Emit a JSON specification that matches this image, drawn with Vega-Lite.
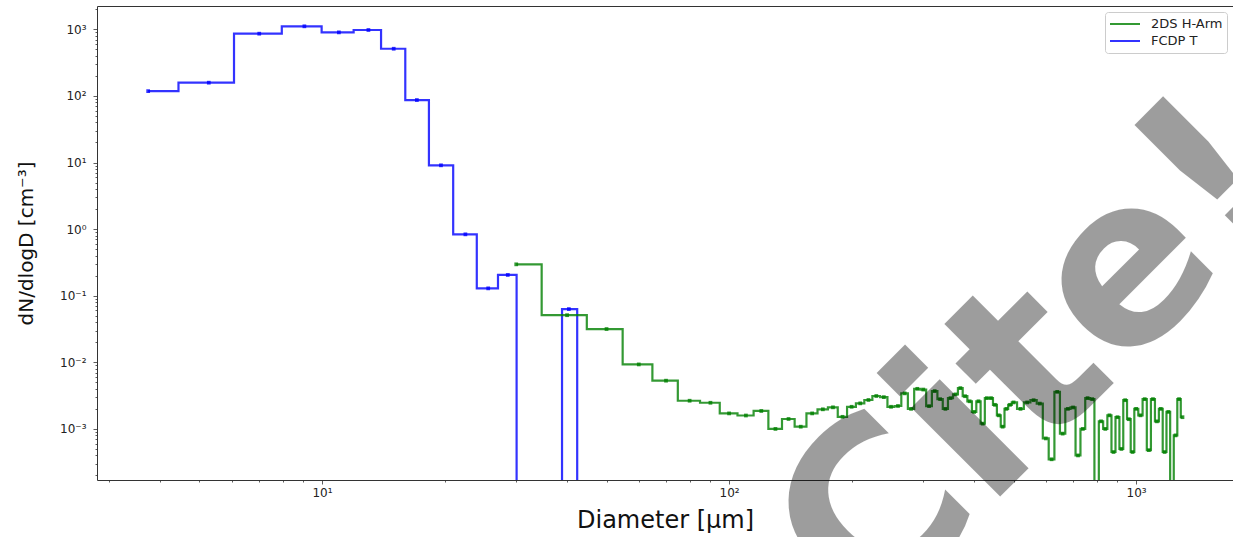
{
  "$schema": "https://vega.github.io/schema/vega-lite/v6.json",
  "description": "dN/dlogD size distribution, FCDP T and 2DS H-Arm",
  "autosize": "none",
  "padding": {"left": 97, "top": 6, "right": 0, "bottom": 57},
  "width": 1136,
  "height": 474,
  "config": {
    "font": "DejaVu Sans",
    "view": {"stroke": "#333333", "strokeWidth": 1},
    "axis": {
      "domain": false,
      "grid": false,
      "tickColor": "#333333",
      "tickWidth": 0.8,
      "labelFont": "DejaVu Sans",
      "labelFontSize": 12,
      "labelColor": "#222222",
      "titleFont": "DejaVu Sans",
      "titleFontWeight": "normal",
      "titleColor": "#111111"
    }
  },
  "datasets": {
    "sd": [
      {"series": "FCDP T", "D": 3.74, "N": 118},
      {"series": "FCDP T", "D": 5.27, "N": 158},
      {"series": "FCDP T", "D": 7.01, "N": 860},
      {"series": "FCDP T", "D": 9.05, "N": 1110},
      {"series": "FCDP T", "D": 11.0, "N": 900},
      {"series": "FCDP T", "D": 13.0, "N": 977},
      {"series": "FCDP T", "D": 15.0, "N": 511},
      {"series": "FCDP T", "D": 17.1, "N": 86.7},
      {"series": "FCDP T", "D": 19.6, "N": 9.08},
      {"series": "FCDP T", "D": 22.5, "N": 0.835},
      {"series": "FCDP T", "D": 25.6, "N": 0.129},
      {"series": "FCDP T", "D": 28.6, "N": 0.205},
      {"series": "FCDP T", "D": 31.6, "N": 0.000001},
      {"series": "FCDP T", "D": 37.4, "N": 0.000001},
      {"series": "FCDP T", "D": 40.4, "N": 0.063},
      {"series": "FCDP T", "D": 44.4, "N": 0.000001},
      {"series": "2DS H-Arm", "D": 30, "N": 0.296},
      {"series": "2DS H-Arm", "D": 40, "N": 0.051},
      {"series": "2DS H-Arm", "D": 50, "N": 0.0316},
      {"series": "2DS H-Arm", "D": 60, "N": 0.0093},
      {"series": "2DS H-Arm", "D": 70, "N": 0.0053},
      {"series": "2DS H-Arm", "D": 80, "N": 0.00265},
      {"series": "2DS H-Arm", "D": 90, "N": 0.00247},
      {"series": "2DS H-Arm", "D": 100, "N": 0.00171},
      {"series": "2DS H-Arm", "D": 110, "N": 0.00159},
      {"series": "2DS H-Arm", "D": 120, "N": 0.00186},
      {"series": "2DS H-Arm", "D": 130, "N": 0.001},
      {"series": "2DS H-Arm", "D": 140, "N": 0.00141},
      {"series": "2DS H-Arm", "D": 150, "N": 0.00108},
      {"series": "2DS H-Arm", "D": 160, "N": 0.00171},
      {"series": "2DS H-Arm", "D": 170, "N": 0.00197},
      {"series": "2DS H-Arm", "D": 180, "N": 0.00211},
      {"series": "2DS H-Arm", "D": 190, "N": 0.00152},
      {"series": "2DS H-Arm", "D": 200, "N": 0.00215},
      {"series": "2DS H-Arm", "D": 210, "N": 0.00242},
      {"series": "2DS H-Arm", "D": 220, "N": 0.00272},
      {"series": "2DS H-Arm", "D": 230, "N": 0.00312},
      {"series": "2DS H-Arm", "D": 240, "N": 0.003},
      {"series": "2DS H-Arm", "D": 250, "N": 0.00215},
      {"series": "2DS H-Arm", "D": 260, "N": 0.00221},
      {"series": "2DS H-Arm", "D": 270, "N": 0.00342},
      {"series": "2DS H-Arm", "D": 280, "N": 0.002},
      {"series": "2DS H-Arm", "D": 290, "N": 0.004},
      {"series": "2DS H-Arm", "D": 300, "N": 0.0039},
      {"series": "2DS H-Arm", "D": 310, "N": 0.0022},
      {"series": "2DS H-Arm", "D": 320, "N": 0.0037},
      {"series": "2DS H-Arm", "D": 330, "N": 0.0028},
      {"series": "2DS H-Arm", "D": 340, "N": 0.002},
      {"series": "2DS H-Arm", "D": 350, "N": 0.0029},
      {"series": "2DS H-Arm", "D": 360, "N": 0.0033},
      {"series": "2DS H-Arm", "D": 370, "N": 0.0041},
      {"series": "2DS H-Arm", "D": 380, "N": 0.0031},
      {"series": "2DS H-Arm", "D": 390, "N": 0.0026},
      {"series": "2DS H-Arm", "D": 400, "N": 0.0018},
      {"series": "2DS H-Arm", "D": 410, "N": 0.0026},
      {"series": "2DS H-Arm", "D": 420, "N": 0.0012},
      {"series": "2DS H-Arm", "D": 430, "N": 0.0029},
      {"series": "2DS H-Arm", "D": 440, "N": 0.0029},
      {"series": "2DS H-Arm", "D": 450, "N": 0.0023},
      {"series": "2DS H-Arm", "D": 460, "N": 0.0016},
      {"series": "2DS H-Arm", "D": 470, "N": 0.00108},
      {"series": "2DS H-Arm", "D": 480, "N": 0.002},
      {"series": "2DS H-Arm", "D": 490, "N": 0.0023},
      {"series": "2DS H-Arm", "D": 500, "N": 0.0025},
      {"series": "2DS H-Arm", "D": 520, "N": 0.002},
      {"series": "2DS H-Arm", "D": 540, "N": 0.0025},
      {"series": "2DS H-Arm", "D": 560, "N": 0.0027},
      {"series": "2DS H-Arm", "D": 580, "N": 0.0024},
      {"series": "2DS H-Arm", "D": 600, "N": 0.00072},
      {"series": "2DS H-Arm", "D": 620, "N": 0.00035},
      {"series": "2DS H-Arm", "D": 640, "N": 0.0036},
      {"series": "2DS H-Arm", "D": 660, "N": 0.00085},
      {"series": "2DS H-Arm", "D": 680, "N": 0.002},
      {"series": "2DS H-Arm", "D": 700, "N": 0.0021},
      {"series": "2DS H-Arm", "D": 720, "N": 0.0004},
      {"series": "2DS H-Arm", "D": 740, "N": 0.001},
      {"series": "2DS H-Arm", "D": 760, "N": 0.0029},
      {"series": "2DS H-Arm", "D": 780, "N": 0.0028},
      {"series": "2DS H-Arm", "D": 800, "N": 0.000001},
      {"series": "2DS H-Arm", "D": 820, "N": 0.0013},
      {"series": "2DS H-Arm", "D": 840, "N": 0.001},
      {"series": "2DS H-Arm", "D": 860, "N": 0.0016},
      {"series": "2DS H-Arm", "D": 880, "N": 0.00045},
      {"series": "2DS H-Arm", "D": 900, "N": 0.0015},
      {"series": "2DS H-Arm", "D": 920, "N": 0.0005},
      {"series": "2DS H-Arm", "D": 940, "N": 0.0027},
      {"series": "2DS H-Arm", "D": 960, "N": 0.0014},
      {"series": "2DS H-Arm", "D": 980, "N": 0.00045},
      {"series": "2DS H-Arm", "D": 1000, "N": 0.002},
      {"series": "2DS H-Arm", "D": 1025, "N": 0.0016},
      {"series": "2DS H-Arm", "D": 1050, "N": 0.0028},
      {"series": "2DS H-Arm", "D": 1075, "N": 0.00048},
      {"series": "2DS H-Arm", "D": 1100, "N": 0.0028},
      {"series": "2DS H-Arm", "D": 1125, "N": 0.0013},
      {"series": "2DS H-Arm", "D": 1150, "N": 0.002},
      {"series": "2DS H-Arm", "D": 1175, "N": 0.00045},
      {"series": "2DS H-Arm", "D": 1200, "N": 0.0018},
      {"series": "2DS H-Arm", "D": 1225, "N": 0.000001},
      {"series": "2DS H-Arm", "D": 1250, "N": 0.0008},
      {"series": "2DS H-Arm", "D": 1275, "N": 0.0028},
      {"series": "2DS H-Arm", "D": 1300, "N": 0.0015}
    ],
    "stamp": [{"label": "Cite!", "D": 571, "N": 0.0101}]
  },
  "layer": [
    {
      "data": {"name": "sd"},
      "mark": {"type": "line", "interpolate": "step", "strokeWidth": 2.2, "opacity": 0.8, "clip": true},
      "encoding": {
        "x": {
          "field": "D",
          "type": "quantitative",
          "scale": {"type": "log", "domain": [2.8, 1730], "nice": false},
          "axis": {
            "title": "Diameter [μm]",
            "titleFontSize": 24,
            "titlePadding": 10,
            "values": [3, 4, 5, 6, 7, 8, 9, 10, 20, 30, 40, 50, 60, 70, 80, 90, 100, 200, 300, 400, 500, 600, 700, 800, 900, 1000],
            "labelExpr": "datum.value == 10 ? '10¹' : datum.value == 100 ? '10²' : datum.value == 1000 ? '10³' : ''",
            "tickSize": {"condition": {"test": "indexof([10, 100, 1000], datum.value) >= 0", "value": 4}, "value": 2},
            "labelPadding": 3
          }
        },
        "y": {
          "field": "N",
          "type": "quantitative",
          "scale": {"type": "log", "domain": [0.000171, 2240], "nice": false},
          "axis": {
            "title": "dN/dlogD [cm⁻³]",
            "titleFontSize": 20,
            "titlePadding": 23,
            "values": [0.0002, 0.0003, 0.0004, 0.0005, 0.0006, 0.0007, 0.0008, 0.0009, 0.001, 0.002, 0.003, 0.004, 0.005, 0.006, 0.007, 0.008, 0.009, 0.01, 0.02, 0.03, 0.04, 0.05, 0.06, 0.07, 0.08, 0.09, 0.1, 0.2, 0.3, 0.4, 0.5, 0.6, 0.7, 0.8, 0.9, 1, 2, 3, 4, 5, 6, 7, 8, 9, 10, 20, 30, 40, 50, 60, 70, 80, 90, 100, 200, 300, 400, 500, 600, 700, 800, 900, 1000, 2000],
            "labelExpr": "datum.value == 1000 ? '10³' : datum.value == 100 ? '10²' : datum.value == 10 ? '10¹' : datum.value == 1 ? '10⁰' : datum.value == 0.1 ? '10⁻¹' : datum.value == 0.01 ? '10⁻²' : datum.value == 0.001 ? '10⁻³' : ''",
            "tickSize": {"condition": {"test": "indexof([0.001, 0.01, 0.1, 1, 10, 100, 1000], datum.value) >= 0", "value": 4}, "value": 2},
            "labelPadding": 7
          }
        },
        "color": {
          "field": "series",
          "type": "nominal",
          "scale": {"domain": ["2DS H-Arm", "FCDP T"], "range": ["#008000", "#0000ff"]},
          "legend": {
            "title": null,
            "orient": "top-right",
            "offset": 6,
            "symbolType": "stroke",
            "symbolStrokeWidth": 2,
            "symbolSize": 900,
            "clipHeight": 16,
            "labelFont": "DejaVu Sans",
            "labelFontSize": 13,
            "labelColor": "#222222",
            "labelOffset": 10,
            "fillColor": "#ffffff",
            "strokeColor": "#cccccc",
            "cornerRadius": 3,
            "padding": 4,
            "rowPadding": 1
          }
        }
      }
    },
    {
      "data": {"name": "sd"},
      "mark": {"type": "point", "shape": "square", "filled": true, "size": 14, "opacity": 0.8, "clip": true},
      "encoding": {
        "x": {"field": "D", "type": "quantitative"},
        "y": {"field": "N", "type": "quantitative"},
        "color": {"field": "series", "type": "nominal", "legend": null}
      }
    },
    {
      "data": {"name": "stamp"},
      "mark": {"type": "text", "font": "DejaVu Sans", "fontWeight": "bold", "fontSize": 230, "angle": 315, "align": "center", "baseline": "middle", "color": "#000000", "opacity": 0.38, "clip": false},
      "encoding": {
        "x": {"field": "D", "type": "quantitative"},
        "y": {"field": "N", "type": "quantitative"},
        "text": {"field": "label"}
      }
    }
  ]
}
